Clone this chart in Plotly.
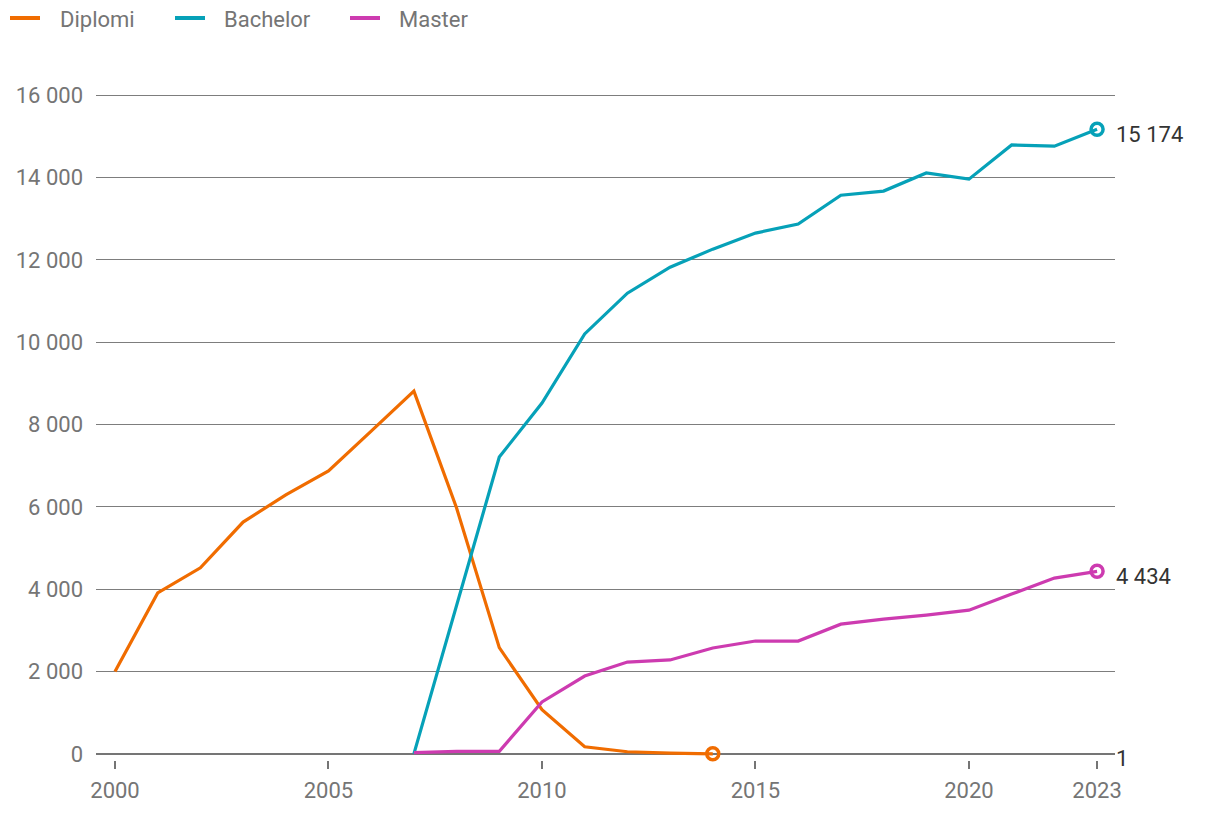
import plotly.graph_objects as go

diplomi_years = list(range(2000, 2015))
diplomi = [2000, 3910, 4520, 5630, 6290, 6870, 7840, 8810, 5970, 2580, 1070, 170, 50, 15, 1]
bachelor_years = list(range(2007, 2024))
bachelor = [0, 3620, 7210, 8520, 10200, 11190, 11820, 12260, 12650, 12870, 13570, 13670, 14110, 13960, 14790, 14760, 15174]
master_years = list(range(2007, 2024))
master = [30, 60, 60, 1260, 1890, 2230, 2280, 2570, 2740, 2740, 3150, 3270, 3370, 3490, 3880, 4270, 4434]

names = ["Diplomi", "Bachelor", "Master"]
colors = ["#f06c00", "#06a1b8", "#cd3bb0"]
xs = [diplomi_years, bachelor_years, master_years]
ys = [diplomi, bachelor, master]
end_labels = ["1", "15 174", "4 434"]

ytick_vals = [0, 2000, 4000, 6000, 8000, 10000, 12000, 14000, 16000]
ytick_text = ["0", "2 000", "4 000", "6 000", "8 000", "10 000", "12 000", "14 000", "16 000"]
xtick_vals = [2000, 2005, 2010, 2015, 2020, 2023]

FS = 22
W, H = 1220, 814
ML, MR, MT, MB = 88, 113, 81, 62
PW, PH = W - ML - MR, H - MT - MB


def px_x(sx):
    # screen pixel (page has 8px body offset) -> paper x
    return (sx - 8 - ML) / PW


def px_y(sy):
    return (H - MB - (sy - 8)) / PH


fig = go.Figure()
for n, c, x, y in zip(names, colors, xs, ys):
    fig.add_trace(go.Scatter(x=x, y=y, name=n, mode="lines", showlegend=False,
                             line=dict(color=c, width=3.2), cliponaxis=False))
    fig.add_trace(go.Scatter(x=[x[-1]], y=[y[-1]], mode="markers", showlegend=False,
                             marker=dict(symbol="circle-open", size=12, color=c,
                                         line=dict(width=3.5, color=c)),
                             cliponaxis=False, hoverinfo="skip"))

for lab, y in zip(end_labels, ys):
    fig.add_annotation(x=2023, y=y[-1], xref="x", yref="y", text=lab, showarrow=False,
                       xanchor="left", xshift=17, yshift=-5,
                       font=dict(family="Roboto", size=FS, color="#333333"))

# legend (manual, positioned like the reference)
legend_line_x = [10, 175, 350]
legend_text_x = [58, 222, 397]
legend_y = 18
for n, c, lx, tx in zip(names, colors, legend_line_x, legend_text_x):
    fig.add_shape(type="line", xref="paper", yref="paper",
                  x0=px_x(lx), x1=px_x(lx + 30), y0=px_y(legend_y), y1=px_y(legend_y),
                  line=dict(color=c, width=4))
    fig.add_annotation(xref="paper", yref="paper", x=px_x(tx), y=px_y(legend_y + 1),
                       text=n, showarrow=False, xanchor="left", yanchor="middle",
                       font=dict(family="Roboto", size=FS, color="#757575"))

fig.update_layout(
    width=W, height=H,
    margin=dict(l=ML, r=MR, t=MT, b=MB),
    plot_bgcolor="white", paper_bgcolor="white",
    font=dict(family="Roboto", size=FS, color="#757575"),
    showlegend=False,
    xaxis=dict(range=[1999.555, 2023.42], tickvals=xtick_vals, showgrid=False,
               zeroline=False, showline=False, ticks="outside", ticklen=8, tickwidth=1.5,
               tickcolor="#757575", ticklabelstandoff=3,
               tickfont=dict(size=FS, color="#757575"), automargin=False),
    yaxis=dict(range=[-150, 16150], tickvals=ytick_vals, ticktext=ytick_text,
               showgrid=True, gridcolor="#7d7d7d", gridwidth=1.2, zeroline=True,
               zerolinecolor="#757575", zerolinewidth=2, showline=False, ticks="",
               ticklabelstandoff=12, tickfont=dict(size=FS, color="#757575"), automargin=False),
)

fig.write_html("out.html")
